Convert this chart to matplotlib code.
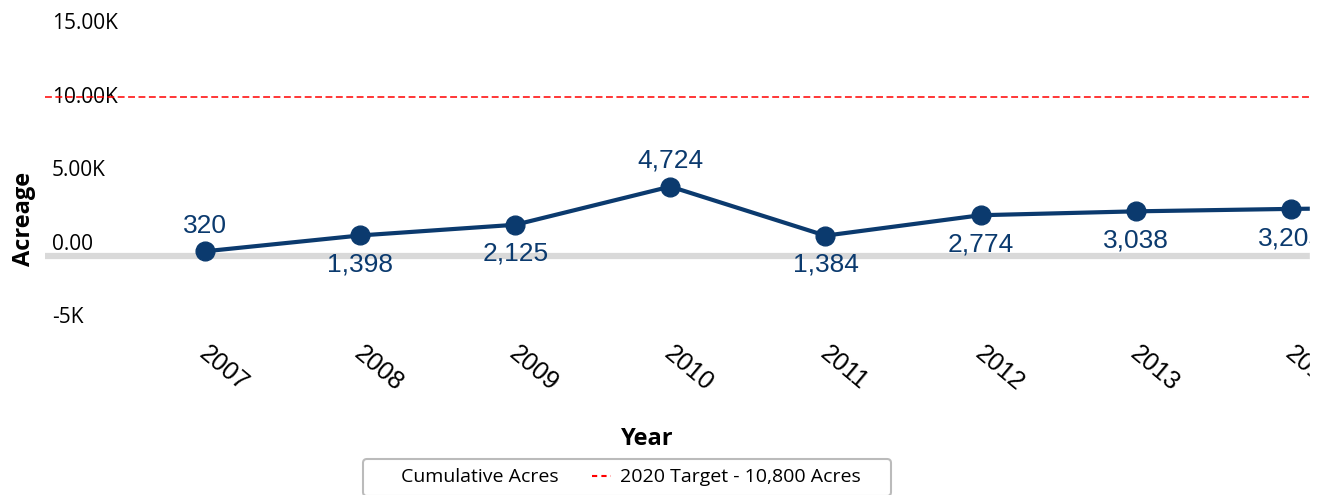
import numpy as np
import matplotlib
matplotlib.use("Agg")
import matplotlib.pyplot as plt
from matplotlib.lines import Line2D
from matplotlib import transforms

# data
years = [2007, 2008, 2009, 2010, 2011, 2012, 2013, 2014, 2015]
acres = [320, 1398, 2125, 4724, 1384, 2774, 3038, 3205, 3300]
label_side = [1, -1, -1, 1, -1, -1, -1, -1, -1]   # 1 = above point, -1 = below
target = 10800
ytick_vals = [-5000, 0, 5000, 10000, 15000]
ytick_text = ["-5K", "0.00", "5.00K", "10.00K", "15.00K"]

navy = "#0b3a6e"

fig = plt.figure(figsize=(13.22, 4.95), dpi=100)
ax = fig.add_axes([45/1322, 155/495, 1265/1322, 335/495])

ax.set_xlim(2005.968, 2014.124)
ax.set_ylim(-5714, 17075)

# zero line
ax.axhline(0, color="#d9d9d9", lw=4.5, zorder=1)
# target line
ax.axhline(target, color="red", lw=1.1, ls=(0, (4.5, 2.3)), zorder=4)

ax.plot(years, acres, color=navy, lw=3, marker="o", ms=13.5, zorder=3,
        clip_on=True)

for x, y, s in zip(years, acres, label_side):
    dy = 18.5 if s > 0 else -21
    ax.annotate(f"{y:,}", (x, y), xytext=(0, dy), textcoords="offset points",
                ha="center", va="center", fontsize=19, color=navy,
                family="Liberation Sans", clip_on=True, annotation_clip=False)

# y tick labels drawn as text a bit above their level
off = transforms.ScaledTranslation(7/100, 12/100, fig.dpi_scale_trans)
for v, t in zip(ytick_vals, ytick_text):
    ax.text(0, v, t, transform=ax.get_yaxis_transform() + off, ha="left",
            va="center", fontsize=15, family="Open Sans", color="black", zorder=2)
ax.set_yticks([])

ax.set_xticks(years[:-1])
ax.set_xticklabels([str(y) for y in years[:-1]], rotation=-40, ha="left",
                   rotation_mode="anchor", fontsize=18, family="Liberation Sans")
ax.tick_params(axis="x", length=0, pad=1)
shift = transforms.ScaledTranslation(5/100, 0, fig.dpi_scale_trans)
for lab in ax.get_xticklabels():
    lab.set_transform(lab.get_transform() + shift)

for sp in ax.spines.values():
    sp.set_visible(False)

ax.set_xlabel("Year", fontsize=17, fontweight="bold", family="Open Sans")
ax.xaxis.set_label_coords((647 - 45) / 1265, -(439 - 340) / 335)
ax.set_ylabel("Acreage", fontsize=17, fontweight="bold", family="Open Sans")
ax.yaxis.set_label_coords(-(45 - 24) / 1265, (340 - 219) / 335)
ax.xaxis.label.set_va("center")
ax.yaxis.label.set_va("center")

handles = [Line2D([], [], color="none"),
           Line2D([], [], color="red", lw=1.5, ls=(0, (2.5, 2)))]
leg = fig.legend(handles, ["Cumulative Acres", "2020 Target - 10,800 Acres    "],
                 loc="upper center", bbox_to_anchor=(627/1322, 46/495), ncol=2,
                 frameon=True, prop={"family": "Open Sans", "size": 14},
                 handlelength=1.0, handletextpad=0.45, columnspacing=1.7,
                 borderpad=0.5, fancybox=True)
leg.get_frame().set_edgecolor("#aaaaaa")
leg.get_frame().set_linewidth(1.5)

# figure edge clips the right side like the original
fig.patches.append(plt.Rectangle((1310/1322, 0), 1, 1, transform=fig.transFigure,
                                 color="white", zorder=10))

fig.savefig("out.png", dpi=100)
